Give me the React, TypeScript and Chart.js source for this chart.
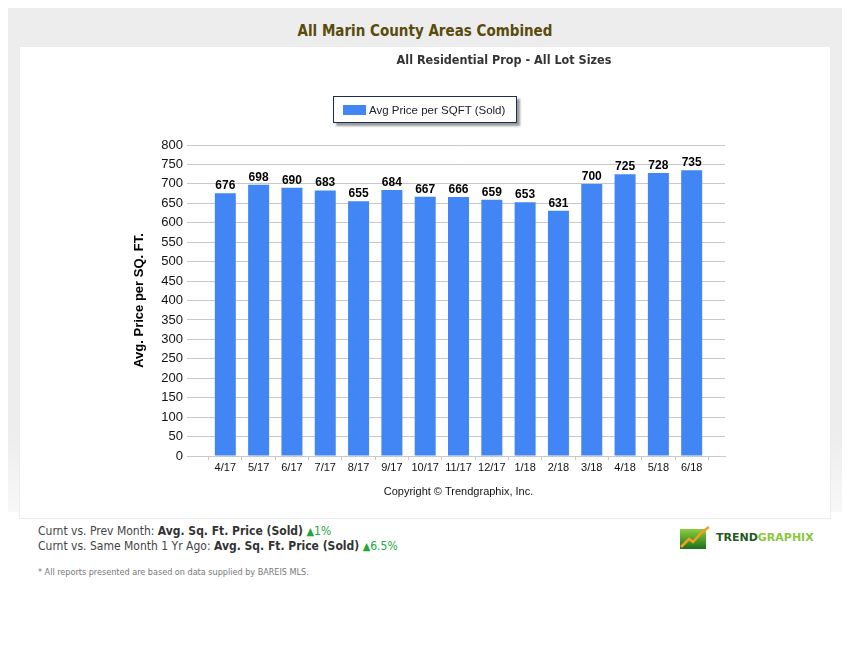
import { useEffect, useRef } from 'react'
import { Chart, registerables } from 'chart.js'

Chart.register(...registerables)

const months = ['4/17', '5/17', '6/17', '7/17', '8/17', '9/17', '10/17', '11/17', '12/17', '1/18', '2/18', '3/18', '4/18', '5/18', '6/18']
const avgPricePerSqft = [676, 698, 690, 683, 655, 684, 667, 666, 659, 653, 631, 700, 725, 728, 735]
const seriesLabel = 'Avg Price per SQFT (Sold)'
const barColor = '#4285f4'
const arial = '"Liberation Sans", Arial, sans-serif'
const tahoma = '"DejaVu Sans Condensed", "DejaVu Sans", sans-serif'

// numbers on top of the bars
const valueLabels = {
    id: 'valueLabels',
    afterDatasetsDraw(chart: any) {
        const ctx = chart.ctx as CanvasRenderingContext2D
        const meta = chart.getDatasetMeta(0)
        ctx.save()
        ctx.font = `bold 12px ${arial}`
        ctx.fillStyle = '#000'
        ctx.textAlign = 'center'
        ctx.textBaseline = 'alphabetic'
        meta.data.forEach((bar: any, i: number) => {
            ctx.fillText(String(avgPricePerSqft[i]), bar.x, bar.y - 4)
        })
        ctx.restore()
    }
}

const App = () => {
    const canvasRef = useRef<HTMLCanvasElement | null>(null)

    useEffect(() => {
        if (!canvasRef.current) return
        const chart = new Chart(canvasRef.current, {
            type: 'bar',
            data: {
                datasets: [{
                    label: seriesLabel,
                    data: avgPricePerSqft.map((v, i) => ({ x: i, y: v })),
                    backgroundColor: barColor,
                    categoryPercentage: 1,
                    barPercentage: 0.63
                }]
            },
            options: {
                responsive: false,
                animation: false,
                layout: { padding: { left: 109, right: 106, top: 99, bottom: 16 } },
                plugins: {
                    legend: { display: false },
                    tooltip: { enabled: false }
                },
                scales: {
                    x: {
                        type: 'linear',
                        offset: false,
                        min: -1,
                        max: months.length,
                        afterFit: (s: any) => { s.height = 47 },
                        grid: { drawOnChartArea: false, tickLength: 4, color: '#c8c8c8' },
                        border: { color: '#c8c8c8' },
                        ticks: {
                            stepSize: 1,
                            autoSkip: false,
                            maxRotation: 0,
                            padding: 1,
                            color: '#111',
                            font: { family: arial, size: 11 },
                            callback: (v: any) => months[v] ?? ''
                        },
                        title: { display: true, text: 'Copyright © Trendgraphix, Inc.', color: '#111', font: { family: arial, size: 11 } }
                    },
                    y: {
                        min: 0,
                        max: 800,
                        afterFit: (s: any) => { s.width = 64 },
                        grid: { tickLength: 5, color: '#c8c8c8' },
                        border: { display: false },
                        ticks: { stepSize: 50, color: '#111', font: { family: arial, size: 13 }, padding: 4 },
                        title: { display: true, text: 'Avg. Price per SQ. FT.', color: '#000', font: { family: arial, size: 13, weight: 'bold' } }
                    }
                }
            },
            plugins: [valueLabels]
        })
        return () => chart.destroy()
    }, [])

    const up = <span style={{ color: '#22a83a', fontSize: 11 }}>▲</span>

    return (
        <div style={{ position: 'relative', width: 834, height: 630, fontFamily: tahoma }}>
            <div style={{ position: 'absolute', left: 0, top: 0, width: 834, height: 504, background: 'linear-gradient(#ededed 0%, #ededed 85%, #f8f8f8 100%)' }} />
            <div style={{ position: 'absolute', left: 0, top: 14, width: 834, textAlign: 'center', fontWeight: 'bold', fontSize: 15, color: '#5a4b0c' }}>
                All Marin County Areas Combined
            </div>
            <div style={{ position: 'absolute', left: 11, top: 38, width: 810, height: 471, background: '#fff', border: '1px solid #ececec' }}>
                <canvas ref={canvasRef} width={812} height={473} style={{ position: 'absolute', left: -1, top: -1 }} />
            </div>
            <div style={{ position: 'absolute', left: 296, top: 44, width: 400, textAlign: 'center', fontWeight: 'bold', fontSize: 12.5, color: '#333' }}>
                All Residential Prop - All Lot Sizes
            </div>
            <div style={{ position: 'absolute', left: 325, top: 88, width: 182, height: 25, background: '#fff', border: '1px solid #1d2b55', boxShadow: '3px 3px 2px #9a9a9a', display: 'flex', alignItems: 'center' }}>
                <span style={{ display: 'inline-block', width: 23, height: 10, background: barColor, marginLeft: 9, marginRight: 3 }} />
                <span style={{ fontFamily: arial, fontSize: 11.5, color: '#222' }}>{seriesLabel}</span>
            </div>
            <div style={{ position: 'absolute', left: 30, top: 516, fontSize: 12, color: '#444', lineHeight: '15px' }}>
                <div>Curnt vs. Prev Month: <b style={{ color: '#333' }}>Avg. Sq. Ft. Price (Sold)</b> {up}<span style={{ color: '#22a83a' }}>1%</span></div>
                <div>Curnt vs. Same Month 1 Yr Ago: <b style={{ color: '#333' }}>Avg. Sq. Ft. Price (Sold)</b> {up}<span style={{ color: '#22a83a' }}>6.5%</span></div>
            </div>
            <div style={{ position: 'absolute', left: 30, top: 559, fontSize: 9, color: '#777' }}>
                * All reports presented are based on data supplied by BAREIS MLS.
            </div>
            <div style={{ position: 'absolute', left: 672, top: 518, display: 'flex', alignItems: 'center' }}>
                <svg width={31} height={23}>
                    <defs>
                        <linearGradient id="tg" x1="0" y1="0" x2="0" y2="1">
                            <stop offset="0" stopColor="#8ccf3c" />
                            <stop offset="1" stopColor="#1e6e1e" />
                        </linearGradient>
                    </defs>
                    <rect x={0} y={3} width={26} height={20} fill="url(#tg)" />
                    <polyline points="1,21 9,13 13,16 21,7 29,1" fill="none" stroke="#f0a020" strokeWidth={2.5} />
                </svg>
                <span style={{ marginLeft: 5, fontFamily: '"DejaVu Sans", sans-serif', fontWeight: 'bold', fontSize: 11 }}>
                    <span style={{ color: '#1f5a1f' }}>TREND</span><span style={{ color: '#8cc63f' }}>GRAPHIX</span>
                </span>
            </div>
        </div>
    )
}

export default App
